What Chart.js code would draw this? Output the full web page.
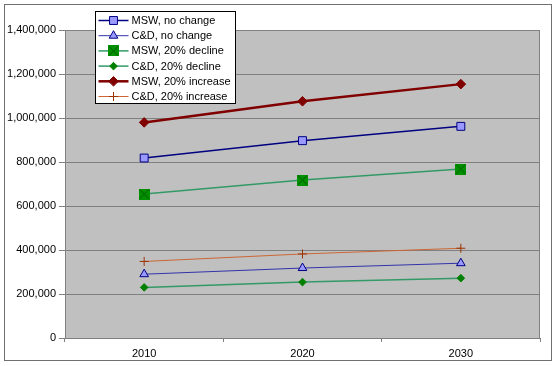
<!DOCTYPE html>
<html>
<head>
<meta charset="utf-8">
<script src="https://cdn.jsdelivr.net/npm/chart.js@4/dist/chart.umd.min.js"></script>
<style>
  html, body { margin: 0; padding: 0; background: #fff; }
  #wrap { width: 557px; height: 366px; }
</style>
</head>
<body>
<div id="wrap"><canvas id="wasteChart" width="557" height="366"></canvas></div>
<script>
/* Waste projections: MSW and C&D scenarios */

const years = ["2010", "2020", "2030"];
const mswNoChange = [818000, 897000, 962000];
const cdNoChange = [290000, 318000, 340000];
const mswDecline = [654000, 718000, 768000];
const cdDecline = [230000, 254000, 272000];
const mswIncrease = [980000, 1076000, 1154000];
const cdIncrease = [348000, 382000, 408000];
const yMax = 1400000;
const yStep = 200000;

const FONT = "Liberation Sans, Arial, Helvetica, sans-serif";

// green square with an X, like the Excel marker
function makeXSquare() {
  const c = document.createElement("canvas");
  c.width = 11; c.height = 11;
  const g = c.getContext("2d");
  g.fillStyle = "#009000";
  g.fillRect(0, 0, 11, 11);
  g.strokeStyle = "#005a00";
  g.lineWidth = 1;
  g.beginPath();
  g.moveTo(1, 1); g.lineTo(10, 10);
  g.moveTo(10, 1); g.lineTo(1, 10);
  g.stroke();
  return c;
}
const xSquare = makeXSquare();

const datasets = [
  {
    label: "MSW, no change", data: mswNoChange,
    borderColor: "#000080", borderWidth: 1.5,
    pointStyle: "rect", pointRadius: 5.6,
    pointBackgroundColor: "#9999FF", pointBorderColor: "#000080", pointBorderWidth: 1
  },
  {
    label: "C&D, no change", data: cdNoChange,
    borderColor: "#3333AA", borderWidth: 1,
    pointStyle: "triangle", pointRadius: 5,
    pointBackgroundColor: "#9999FF", pointBorderColor: "#000080", pointBorderWidth: 1
  },
  {
    label: "MSW, 20% decline", data: mswDecline,
    borderColor: "#339966", borderWidth: 1.5,
    pointStyle: xSquare, pointRadius: 6,
    pointBackgroundColor: "#009000", pointBorderColor: "#009000"
  },
  {
    label: "C&D, 20% decline", data: cdDecline,
    borderColor: "#339966", borderWidth: 1.5,
    pointStyle: "rectRot", pointRadius: 3.8,
    pointBackgroundColor: "#008000", pointBorderColor: "#008000", pointBorderWidth: 1
  },
  {
    label: "MSW, 20% increase", data: mswIncrease,
    borderColor: "#800000", borderWidth: 2.5,
    pointStyle: "rectRot", pointRadius: 4.8,
    pointBackgroundColor: "#800000", pointBorderColor: "#800000", pointBorderWidth: 1
  },
  {
    label: "C&D, 20% increase", data: cdIncrease,
    borderColor: "#CC6633", borderWidth: 1,
    pointStyle: "cross", pointRadius: 4.5,
    pointBackgroundColor: "#993300", pointBorderColor: "#993300", pointBorderWidth: 1
  }
];
datasets.forEach(d => { d.tension = 0; d.fill = false; d.pointHoverRadius = d.pointRadius; });

// frame, grey plot area and right edge
const framePlugin = {
  id: "frame",
  beforeDraw(chart) {
    const { ctx, chartArea: a, width, height } = chart;
    ctx.save();
    ctx.fillStyle = "#fff";
    ctx.fillRect(0, 0, width, height);
    ctx.fillStyle = "#C0C0C0";
    ctx.fillRect(a.left, a.top, a.right - a.left, a.bottom - a.top);
    ctx.strokeStyle = "#707070";
    ctx.lineWidth = 1;
    ctx.strokeRect(4.5, 4.5, 547, 356);
    ctx.restore();
  },
  afterDatasetsDraw(chart) {
    const { ctx, chartArea: a } = chart;
    ctx.save();
    ctx.strokeStyle = "#808080";
    ctx.lineWidth = 1;
    ctx.beginPath();
    ctx.moveTo(Math.round(a.right) - 0.5, a.top);
    ctx.lineTo(Math.round(a.right) - 0.5, a.bottom);
    ctx.stroke();
    ctx.restore();
  }
};

// boxed legend with line + marker samples
const legendPlugin = {
  id: "boxLegend",
  afterDraw(chart) {
    const { ctx } = chart;
    const x0 = 95.5, y0 = 11.5, w = 140, h = 92, rowH = 15.2;
    ctx.save();
    ctx.fillStyle = "#fff";
    ctx.fillRect(x0, y0, w, h);
    ctx.strokeStyle = "#000";
    ctx.lineWidth = 1;
    ctx.strokeRect(x0, y0, w, h);
    ctx.font = "11px " + FONT;
    ctx.textBaseline = "middle";
    chart.data.datasets.forEach((ds, i) => {
      const y = y0 + 9 + i * rowH;
      ctx.strokeStyle = ds.borderColor;
      ctx.lineWidth = ds.borderWidth;
      ctx.beginPath();
      ctx.moveTo(x0 + 3, y);
      ctx.lineTo(x0 + 33, y);
      ctx.stroke();
      ctx.fillStyle = ds.pointBackgroundColor;
      ctx.strokeStyle = ds.pointBorderColor;
      ctx.lineWidth = ds.pointBorderWidth || 1;
      Chart.helpers.drawPoint(ctx, { pointStyle: ds.pointStyle, radius: ds.pointRadius, rotation: 0, borderWidth: ds.pointBorderWidth || 1 }, x0 + 18, y);
      ctx.fillStyle = "#000";
      ctx.fillText(ds.label, x0 + 36, y + 0.5);
    });
    ctx.restore();
  }
};

new Chart(document.getElementById("wasteChart"), {
  type: "line",
  data: { labels: years, datasets: datasets },
  options: {
    responsive: false,
    animation: false,
    layout: { padding: { left: 0, right: 17, top: 30, bottom: 0 } },
    plugins: {
      legend: { display: false },
      tooltip: { enabled: false }
    },
    scales: {
      x: {
        offset: true,
        afterFit: s => { s.height = 28; },
        grid: {
          offset: true, drawOnChartArea: false, drawTicks: true,
          tickLength: 4, color: "#808080"
        },
        border: { color: "#808080", width: 1 },
        ticks: { color: "#000", font: { family: FONT, size: 11 }, padding: 5, maxRotation: 0 }
      },
      y: {
        min: 0, max: yMax,
        afterFit: s => { s.width = 65; },
        grid: { color: "#808080", lineWidth: 1, tickLength: 6 },
        border: { color: "#808080", width: 1 },
        ticks: {
          stepSize: yStep, color: "#000", padding: 3,
          font: { family: FONT, size: 11 },
          callback: v => v.toLocaleString("en-US")
        }
      }
    }
  },
  plugins: [framePlugin, legendPlugin]
});
</script>
</body>
</html>
